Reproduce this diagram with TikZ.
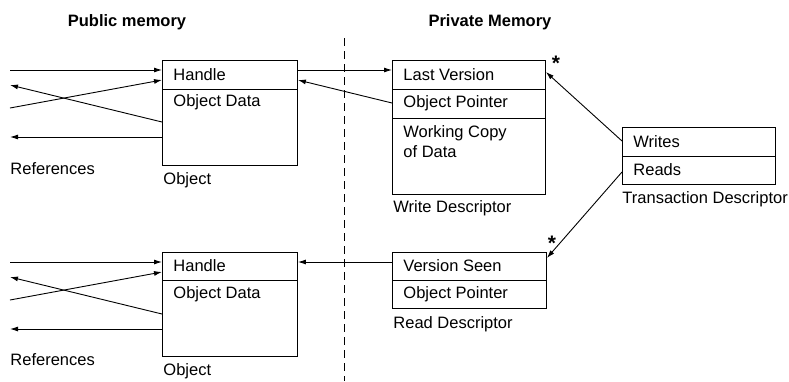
\documentclass[tikz,border=0pt]{standalone}
\usepackage{fontspec}
\setmainfont{Liberation Sans}
\usetikzlibrary{arrows.meta}

% horizontal divider inside a box, #2 pt below its top edge
\def\trennlinie#1#2{
	\draw ([yshift=-#2pt]#1.north west) -- ([yshift=-#2pt]#1.north east);
}
% text of one field: name, box, distance from the top, text
\def\eintrag#1#2#3#4{
	\node[feld] (#1) at ([xshift=11pt,yshift=-#3pt]#2.north west) {#4};
}
% four references coming in and going out on the left of an object
\def\verweise#1{
	\coordinate (#1-r1) at ([xshift=-152pt,yshift=-10pt]#1.north west);
	\coordinate (#1-r2) at ([xshift=-152pt,yshift=-25pt]#1.north west);
	\coordinate (#1-r3) at ([xshift=-152pt,yshift=-48pt]#1.north west);
	\coordinate (#1-r4) at ([xshift=-152pt,yshift=-77pt]#1.north west);
	\draw[->] (#1-r1) -- ([yshift=-10pt]#1.north west);
	\draw[->] ([yshift=-62pt]#1.north west) -- (#1-r2);
	\draw[->] (#1-r3) -- ([yshift=-20pt]#1.north west);
	\draw[->] ([yshift=-77pt]#1.north west) -- (#1-r4);
}

\begin{document}
\begin{tikzpicture}[x=1pt,y=-1pt,line width=0.9pt,
	>={Latex[length=8pt,width=5pt]},
	font=\fontsize{16.5}{20}\selectfont,
	kasten/.style={draw,anchor=north west,inner sep=0pt},
	feld/.style={anchor=west,inner sep=0pt},
	titel/.style={font=\fontsize{16.5}{20}\selectfont\bfseries},
	stern/.style={inner sep=0pt,font=\fontsize{21}{21}\selectfont\bfseries}]
\useasboundingbox (0,0) rectangle (789,381);

% headings and the border between both memories
\node[titel] (oeffentlich) at (127,22) {Public memory};
\node[titel] (privat) at (490,22) {Private Memory};
\coordinate (grenze-oben) at (344,38);
\coordinate (grenze-unten) at (344,381);
\draw[dash pattern=on 8pt off 5pt] (grenze-oben) -- (grenze-unten);

% objects in public memory
\node[kasten,minimum width=135pt,minimum height=105pt] (objA) at (162,60) {};
\trennlinie{objA}{29}
\eintrag{objA-handle}{objA}{14.5}{Handle}
\eintrag{objA-daten}{objA}{42.5}{Object Data}
\node[feld] (objA-name) at ([xshift=1pt,yshift=-14pt]objA.south west) {Object};
\node[feld] (refsA) at (10,169) {References};
\verweise{objA}

\node[kasten,minimum width=135pt,minimum height=104pt] (objB) at (162,252) {};
\trennlinie{objB}{28}
\eintrag{objB-handle}{objB}{14}{Handle}
\eintrag{objB-daten}{objB}{42}{Object Data}
\node[feld] (objB-name) at ([xshift=1pt,yshift=-14pt]objB.south west) {Object};
\node[feld] (refsB) at (10,360) {References};
\verweise{objB}

% descriptors in private memory
\node[kasten,minimum width=153pt,minimum height=134pt] (wd) at (392,60) {};
\trennlinie{wd}{29}
\trennlinie{wd}{58}
\eintrag{wd-version}{wd}{14.5}{Last Version}
\eintrag{wd-zeiger}{wd}{43.5}{Object Pointer}
\node[feld,align=left] (wd-kopie) at ([xshift=11pt,yshift=-82pt]wd.north west) {Working Copy\\of Data};
\node[feld] (wd-name) at ([xshift=1pt,yshift=-13pt]wd.south west) {Write Descriptor};
\node[stern] (wd-stern) at ([xshift=10pt,yshift=-3pt]wd.north east) {*};

\node[kasten,minimum width=154pt,minimum height=56pt] (rd) at (392,252) {};
\trennlinie{rd}{28}
\eintrag{rd-version}{rd}{14}{Version Seen}
\eintrag{rd-zeiger}{rd}{42}{Object Pointer}
\node[feld] (rd-name) at ([xshift=1pt,yshift=-15pt]rd.south west) {Read Descriptor};
\node[stern] (rd-stern) at ([xshift=5pt,yshift=9pt]rd.north east) {*};

\node[kasten,minimum width=153pt,minimum height=57pt] (td) at (622,127) {};
\trennlinie{td}{29}
\eintrag{td-writes}{td}{14.5}{Writes}
\eintrag{td-reads}{td}{43}{Reads}
\node[feld] (td-name) at ([yshift=-14pt]td.south west) {Transaction Descriptor};

% pointers between the boxes
\draw[->] ([yshift=-10pt]objA.north east) -- ([yshift=-10pt]wd.north west);
\draw[->] ([yshift=-43pt]wd.north west) -- ([yshift=-20pt]objA.north east);
\draw[->] ([yshift=-10pt]rd.north west) -- ([yshift=-10pt]objB.north east);
\draw[->] ([yshift=-14pt]td.north west) -- ([yshift=-12pt]wd.north east);
\draw[->] ([yshift=-45pt]td.north west) -- ([yshift=-6pt]rd.north east);
\end{tikzpicture}
\end{document}
